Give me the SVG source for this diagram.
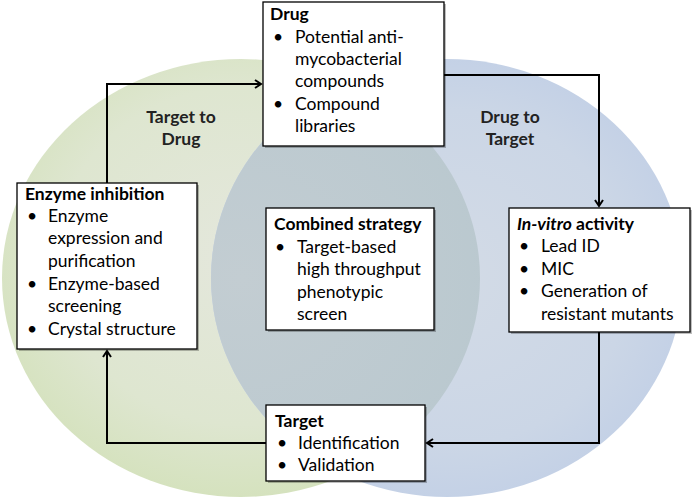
<svg xmlns="http://www.w3.org/2000/svg" width="697" height="503" viewBox="0 0 697 503">
<defs>
<style>
text{font-family:Lato,"Open Sans","Liberation Sans",sans-serif;font-size:17.5px;fill:#000}
.h{font-weight:bold}
.lbl{font-weight:bold;text-anchor:middle;fill:#222}
.box{fill:#fff;stroke:#000;stroke-width:1.3}
.sh{fill:#000;opacity:0.25}
.con{fill:none;stroke:#000;stroke-width:2}
</style>
<radialGradient id="gG" cx="0.5" cy="0.45" r="0.55">
<stop offset="0" stop-color="#e4e7dc"/>
<stop offset="0.7" stop-color="#dee6d0"/>
<stop offset="1" stop-color="#d5e2be"/>
</radialGradient>
<radialGradient id="gB" cx="0.5" cy="0.5" r="0.55">
<stop offset="0" stop-color="#d3dbe6"/>
<stop offset="0.7" stop-color="#cbd6e6"/>
<stop offset="1" stop-color="#c1cfe6"/>
</radialGradient>
<radialGradient id="gI" cx="0.5" cy="0.5" r="0.6">
<stop offset="0" stop-color="#c3cdd2"/>
<stop offset="1" stop-color="#b9c8cf"/>
</radialGradient>
<clipPath id="cB"><ellipse cx="447" cy="278" rx="236" ry="219"/></clipPath>
<marker id="ar" markerWidth="10" markerHeight="10" refX="7" refY="5" orient="auto" markerUnits="userSpaceOnUse">
<path d="M1,1 L7,5 L1,9" fill="none" stroke="#000" stroke-width="2"/>
</marker>
</defs>
<rect width="697" height="503" fill="#fff"/>
<g id="circles">
<ellipse cx="241" cy="278" rx="239" ry="219" fill="url(#gG)"/>
<ellipse cx="447" cy="278" rx="236" ry="219" fill="url(#gB)"/>
<ellipse cx="241" cy="278" rx="239" ry="219" fill="url(#gI)" clip-path="url(#cB)"/>
</g>
<g id="connectors">
<path class="con" d="M107,183 V84 H261" marker-end="url(#ar)"/>
<path class="con" d="M444,75 H599 V206" marker-end="url(#ar)"/>
<path class="con" d="M599,332 V443 H427" marker-end="url(#ar)"/>
<path class="con" d="M266,443 H107 V351" marker-end="url(#ar)"/>
</g>
<g id="lbl-target-to-drug">
<text class="lbl" x="181" y="123">Target to</text>
<text class="lbl" x="181" y="145">Drug</text>
</g>
<g id="lbl-drug-to-target">
<text class="lbl" x="510" y="123">Drug to</text>
<text class="lbl" x="510" y="145">Target</text>
</g>
<g id="drug">
<rect class="sh" x="265" y="4" width="181" height="144"/>
<rect class="box" x="263" y="2" width="181" height="144"/>
<text class="h" x="270" y="20">Drug</text>
<text x="273" y="43">•</text><text x="295" y="43">Potential anti-</text>
<text x="295" y="65">mycobacterial</text>
<text x="295" y="87">compounds</text>
<text x="273" y="110">•</text><text x="295" y="110">Compound</text>
<text x="295" y="132">libraries</text>
</g>
<g id="enzyme">
<rect class="sh" x="19" y="185" width="180" height="166"/>
<rect class="box" x="17" y="183" width="180" height="166"/>
<text class="h" x="25" y="200">Enzyme inhibition</text>
<text x="27" y="222">•</text><text x="48" y="222">Enzyme</text>
<text x="48" y="244">expression and</text>
<text x="48" y="267">purification</text>
<text x="27" y="290">•</text><text x="48" y="290">Enzyme-based</text>
<text x="48" y="312">screening</text>
<text x="27" y="335">•</text><text x="48" y="335">Crystal structure</text>
</g>
<g id="combined">
<rect class="sh" x="268" y="210" width="168" height="122"/>
<rect class="box" x="266" y="208" width="168" height="122"/>
<text class="h" x="274" y="230">Combined strategy</text>
<text x="275" y="253">•</text><text x="297" y="253">Target-based</text>
<text x="297" y="275">high throughput</text>
<text x="297" y="298">phenotypic</text>
<text x="297" y="320">screen</text>
</g>
<g id="invitro">
<rect class="sh" x="511" y="210" width="181" height="124"/>
<rect class="box" x="509" y="208" width="181" height="124"/>
<text class="h" x="517" y="230"><tspan font-style="italic">In-vitro</tspan> activity</text>
<text x="519" y="252">•</text><text x="541" y="252">Lead ID</text>
<text x="519" y="275">•</text><text x="541" y="275">MIC</text>
<text x="519" y="297">•</text><text x="541" y="297">Generation of</text>
<text x="541" y="320">resistant mutants</text>
</g>
<g id="target">
<rect class="sh" x="268" y="407" width="159" height="76"/>
<rect class="box" x="266" y="405" width="159" height="76"/>
<text class="h" x="275" y="427">Target</text>
<text x="277" y="449">•</text><text x="298" y="449">Identification</text>
<text x="277" y="471">•</text><text x="298" y="471">Validation</text>
</g>
</svg>
